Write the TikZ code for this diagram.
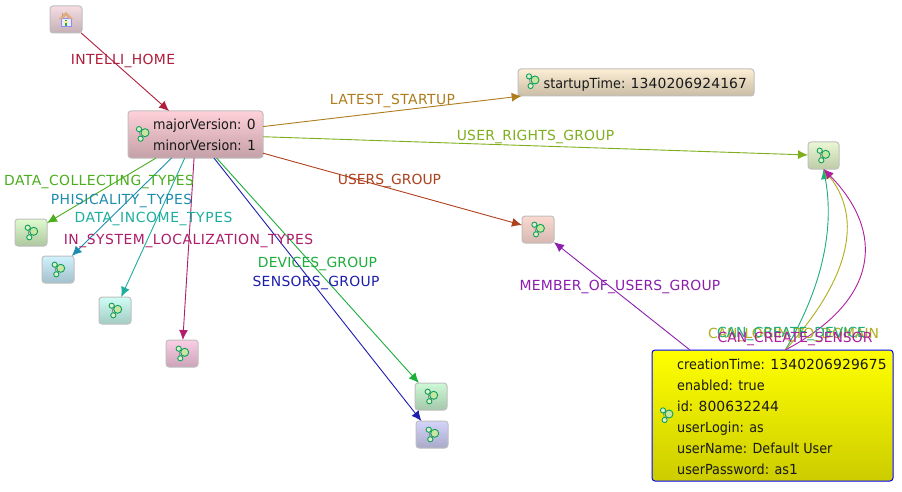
\documentclass[tikz,border=0pt]{standalone}
\usepackage{fontspec}
\setmainfont{DejaVu Sans}
\newfontfamily\ntxt[FakeStretch=0.92]{DejaVu Sans}
\usetikzlibrary{arrows.meta}
\definecolor{cHome}{HTML}{B01E3C}
\definecolor{cStart}{HTML}{AE7D1E}
\definecolor{cRights}{HTML}{7FAE1E}
\definecolor{cUsers}{HTML}{AE411E}
\definecolor{cColl}{HTML}{4BAE1E}
\definecolor{cPhys}{HTML}{1E8CAE}
\definecolor{cInc}{HTML}{1EAE9F}
\definecolor{cLoc}{HTML}{AE1E6A}
\definecolor{cDev}{HTML}{1EAE3C}
\definecolor{cSens}{HTML}{1E1EAE}
\definecolor{cMem}{HTML}{8C1EAE}
\definecolor{cCanA}{HTML}{1EAE7A}
\definecolor{cCanB}{HTML}{AEAE1E}
\definecolor{cCanC}{HTML}{AE1E9F}
\definecolor{boxline}{HTML}{BFBFBF}
\definecolor{molA}{HTML}{0FA060}
\definecolor{molF}{HTML}{C8E6A0}
\newcommand{\grad}[3]{\definecolor{#1T}{HTML}{#2}\definecolor{#1B}{HTML}{#3}}
\grad{home}{F5DDE2}{C4B0B5}
\grad{vers}{FFD0D8}{C4A0A8}
\grad{star}{FDEFD4}{C9BBA5}
\grad{righ}{EBF7D4}{BDCBA6}
\grad{user}{FBD9D0}{D6B8B0}
\grad{coll}{DFFBCE}{ADC79F}
\grad{phys}{D0F3FD}{A3BFCB}
\grad{inco}{CFFDF5}{A3CBC3}
\grad{loca}{FBCEE4}{CBA3B8}
\grad{devi}{CFF9D6}{A3C7AA}
\grad{sens}{D4D4FB}{A9A9C9}
\newcommand{\ls}[1]{\addfontfeature{LetterSpace=#1}}
\newcommand{\dg}[1]{{\rmfamily\addfontfeature{LetterSpace=0.8}#1}}
\tikzset{
  x=1pt,y=-1pt,
  gbox/.style={draw=boxline,line width=1pt,rounded corners=3pt,inner sep=0pt,outer sep=0pt},
  small/.style={gbox,minimum width=32pt,minimum height=27pt},
  conn/.style={line width=0.9pt,-{Latex[length=10pt,width=9pt]}},
  lbl/.style={font=\fontsize{13.9}{15}\selectfont,inner sep=0pt,anchor=base},
  txt/.style={font=\ntxt\fontsize{13.9}{15}\selectfont,inner sep=0pt,anchor=base west,text=black!90},
}
\newcommand{\molecule}[2]{%
  \begin{scope}[shift={(#1,#2)}]
    \draw[gray,line width=0.7pt] (-3.3,-5.8) -- (-1.7,3.8) -- (2.7,-2.2) -- cycle;
    \draw[molA,fill=molF!60,line width=0.9pt] (-3.3,-5.8) circle (2.6pt);
    \draw[molA,fill=molF!60,line width=0.9pt] (-1.7,3.8) circle (2.6pt);
    \draw[molA,fill=molF,line width=0.9pt] (2.7,-2.2) circle (4pt);
  \end{scope}}
\begin{document}
\begin{tikzpicture}
\useasboundingbox (0,0) rectangle (902,492);
\fill[white] (0,0) rectangle (902,492);
% nodes
\node[small,top color=homeT,bottom color=homeB] (home) at (66,19.5) {};
\node[gbox,minimum width=135pt,minimum height=47pt,top color=versT,bottom color=versB] (version) at (195.5,134.5) {};
\node[gbox,minimum width=236pt,minimum height=27pt,top color=starT,bottom color=starB] (startup) at (636,82.5) {};
\node[small,minimum width=31pt,top color=righT,bottom color=righB] (rights) at (823.5,155.5) {};
\node[small,top color=userT,bottom color=userB] (users) at (538,229.5) {};
\node[small,top color=collT,bottom color=collB] (coll) at (31,232.5) {};
\node[small,top color=physT,bottom color=physB] (phys) at (58,269.5) {};
\node[small,top color=incoT,bottom color=incoB] (income) at (115,310.5) {};
\node[small,top color=locaT,bottom color=locaB] (local) at (182,353.5) {};
\node[small,top color=deviT,bottom color=deviB] (devices) at (431,396.5) {};
\node[small,top color=sensT,bottom color=sensB] (sensors) at (432,434.5) {};
\node[draw={rgb,255:red,0;green,0;blue,255},line width=1pt,rounded corners=3pt,inner sep=0pt,outer sep=0pt,minimum width=241pt,minimum height=131pt,top color=yellow,bottom color={rgb,255:red,204;green,204;blue,0}] (user) at (772.5,415.5) {};
% icons
\molecule{142.3}{134.9}
\molecule{532.3}{82.2}
\molecule{823}{156.5}
\molecule{537.7}{230.5}
\molecule{31}{233.5}
\molecule{58}{270.5}
\molecule{115}{311.5}
\molecule{182}{354.5}
\molecule{431}{397.5}
\molecule{432}{435.5}
\molecule{666.3}{416.2}
% house
\begin{scope}[shift={(66,20)}]
  \fill[blue!8!white,draw=blue!45!white,line width=0.6pt] (-5,-1.5) rectangle (5,6.5);
  \fill[brown!50!orange!60!white,draw=brown!70!white,line width=0.4pt] (-6.5,-1) -- (0,-7.5) -- (6.5,-1) -- (4,-1) -- (0,-5) -- (-4,-1) -- cycle;
  \fill[brown!80!white] (-3.8,-7) rectangle (-2.8,-4);
  \fill[green!60!black!80] (-1.3,0) rectangle (1.3,6.5);
  \fill[yellow!80!white] (-0.6,1.5) rectangle (0.6,3.5);
\end{scope}
% text in nodes
\node[txt] (t1) at (153,130) {majorVersion: \dg{0}};
\node[txt] (t2) at (153,150.7) {minorVersion: \dg{1}};
\node[txt] (t3) at (543.5,88.3) {startupTime: \dg{1340206924167}};
\node[txt] (u1) at (677,369.3) {creationTime: \dg{1340206929675}};
\node[txt] (u2) at (677,390.3) {enabled: true};
\node[txt] (u3) at (677,411.3) {id: \dg{800632244}};
\node[txt] (u4) at (677,432.3) {userLogin: as};
\node[txt] (u5) at (677,453.3) {userName: Default User};
\node[txt] (u6) at (677,474.3) {userPassword: as\dg{1}};
% connectors
\draw[conn,cHome] (home) -- (version);
\draw[conn,cStart] (version) -- (startup);
\draw[conn,cRights] (version) -- (rights);
\draw[conn,cUsers] (version) -- (users);
\draw[conn,cColl] (version) -- (coll);
\draw[conn,cPhys] (version) -- (phys);
\draw[conn,cInc] (version) -- (income);
\draw[conn,cLoc] (version) -- (local);
\draw[conn,cDev] (version) -- (devices);
\draw[conn,cSens] (version) -- (sensors);
\draw[conn,cMem] (user) -- (users);
\draw[conn,cCanA] (user.79.2) .. controls (821,290) and (835,230) .. (rights.south);
\draw[conn,cCanB] (user.79.2) .. controls (840,290) and (868,225) .. (rights.south);
\draw[conn,cCanC] (user.79.2) .. controls (880,300) and (885,232) .. (rights.south);
% labels
\node[lbl,text=cHome] (l1) at (123,65) {\ls{2.4}INTELLI\_HOME};
\node[lbl,text=cStart] (l2) at (392.5,105) {\ls{3.1}LATEST\_STARTUP};
\node[lbl,text=cRights] (l3) at (535.5,140) {\ls{1.7}USER\_RIGHTS\_GROUP};
\node[lbl,text=cUsers] (l4) at (389.5,184.5) {USERS\_GROUP};
\node[lbl,text=cColl] (l5) at (99,185) {\ls{3.1}DATA\_COLLECTING\_TYPES};
\node[lbl,text=cPhys] (l6) at (121.5,204) {\ls{3.4}PHISICALITY\_TYPES};
\node[lbl,text=cInc] (l7) at (153.5,222) {\ls{4.2}DATA\_INCOME\_TYPES};
\node[lbl,text=cLoc] (l8) at (188.5,244) {\ls{3.9}IN\_SYSTEM\_LOCALIZATION\_TYPES};
\node[lbl,text=cDev] (l9) at (317.5,267) {\ls{1.1}DEVICES\_GROUP};
\node[lbl,text=cSens] (l10) at (316,286) {\ls{2.2}SENSORS\_GROUP};
\node[lbl,text=cMem] (l11) at (620,290) {\ls{1.4}MEMBER\_OF\_USERS\_GROUP};
\node[lbl,text=cCanB] (l12) at (793.5,338) {CAN\_LOGIN\_TO\_DOMAIN};
\node[lbl,text=cCanA] (l13) at (791.5,337) {CAN\_CREATE\_DEVICE};
\node[lbl,text=cCanC] (l14) at (795,342) {CAN\_CREATE\_SENSOR};
\end{tikzpicture}
\end{document}
